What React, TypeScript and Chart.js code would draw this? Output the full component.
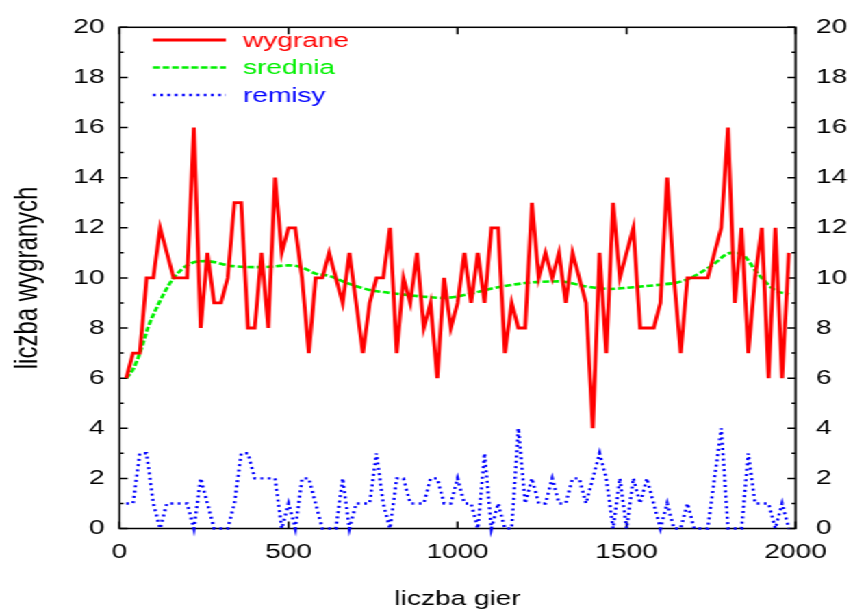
import React, { useEffect, useRef } from 'react';
import { Chart, registerables } from 'chart.js';

Chart.register(...registerables);

// ---------- data ----------
const games = [20,40,60,80,100,120,140,160,180,200,220,240,260,280,300,320,340,360,380,400,420,440,460,480,500,520,540,560,580,600,620,640,660,680,700,720,740,760,780,800,820,840,860,880,900,920,940,960,980,1000,1020,1040,1060,1080,1100,1120,1140,1160,1180,1200,1220,1240,1260,1280,1300,1320,1340,1360,1380,1400,1420,1440,1460,1480,1500,1520,1540,1560,1580,1600,1620,1640,1660,1680,1700,1720,1740,1760,1780,1800,1820,1840,1860,1880,1900,1920,1940,1960,1980];

const wygrane = [
  6,7,7,10,10,12,11,10,10,10,
  16,8,11,9,9,10,13,13,8,8,
  11,8,14,11,12,12,10,7,10,10,
  11,10,9,11,9,7,9,10,10,12,
  7,10,9,11,8,9,6,10,8,9,
  11,9,11,9,12,12,7,9,8,8,
  13,10,11,10,11,9,11,10,9,4,
  11,7,13,10,11,12,8,8,8,9,
  14,10,7,10,10,10,10,11,12,16,
  9,12,7,10,12,6,12,6,11,
];

const remisy = [
  1,1,3,3,1,0,1,1,1,1,
  0,2,1,0,0,0,1,3,3,2,
  2,2,2,0,1,0,2,2,1,0,
  0,0,2,0,1,1,1,3,1,0,
  2,2,1,1,1,2,2,1,1,2,
  1,1,0,3,0,1,0,0,4,1,
  2,1,1,2,1,1,2,2,1,2,
  3,2,0,2,0,2,1,2,1,0,
  1,0,0,1,0,0,0,2,4,0,
  0,0,3,1,1,1,0,1,0,
];

const sredniaX = [20,40,60,85,115,145,160,185,215,255,335,420,500,540,580,620,680,740,820,900,960,1040,1120,1220,1300,1380,1450,1520,1600,1650,1690,1750,1810,1840,1890,1940,1980];
const sredniaY = [6.0,6.35,7.0,8.05,8.95,9.7,10.0,10.35,10.6,10.67,10.47,10.43,10.5,10.42,10.17,10.08,9.76,9.52,9.37,9.25,9.2,9.38,9.63,9.82,9.86,9.66,9.56,9.63,9.73,9.82,10.0,10.47,11.0,10.95,10.14,9.5,9.35];

const seriesLabels = ['wygrane', 'srednia', 'remisy'];
const xTickValues = [0, 500, 1000, 1500, 2000];
const yTickValues = [0,1,2,3,4,5,6,7,8,9,10,11,12,13,14,15,16,17,18,19,20];
const xTitle = 'liczba gier';
const yTitle = 'liczba wygranych';

// ---------- layout (canvas is drawn narrow and stretched horizontally) ----------
const W = 623;
const H = 615;
const S = 853 / W;
const FONT_FAMILY = '"Liberation Sans", Arial, sans-serif';
const FONT_SIZE = 20.5;

const framePlugin = {
  id: 'gnuFrame',
  beforeDatasetsDraw(chart: any) {
    const { ctx, chartArea } = chart;
    const { left, right, top, bottom } = chartArea;
    const ys = chart.scales.y;
    const xs = chart.scales.x;
    ctx.save();
    ctx.strokeStyle = '#000';
    ctx.lineWidth = 1.5;
    ctx.strokeRect(left, top, right - left, bottom - top);
    ctx.beginPath();
    for (const v of yTickValues) {
      const py = ys.getPixelForValue(v);
      const len = v % 2 === 0 ? 6 : 3;
      ctx.moveTo(left, py); ctx.lineTo(left + len, py);
      ctx.moveTo(right, py); ctx.lineTo(right - len, py);
    }
    for (const v of xTickValues) {
      const px = xs.getPixelForValue(v);
      ctx.moveTo(px, bottom); ctx.lineTo(px, bottom - 7);
      ctx.moveTo(px, top); ctx.lineTo(px, top + 7);
    }
    ctx.stroke();
    ctx.restore();
  },
  afterDraw(chart: any) {
    const { ctx } = chart;
    const rows = [40, 67.5, 95];
    const x1 = 111.7, x2 = 165, tx = 177.5;
    ctx.save();
    ctx.font = `${FONT_SIZE}px ${FONT_FAMILY}`;
    ctx.textBaseline = 'middle';
    ctx.textAlign = 'left';
    chart.data.datasets.forEach((ds: any, i: number) => {
      const y = rows[i];
      ctx.strokeStyle = ds.borderColor;
      ctx.lineWidth = ds.borderWidth;
      ctx.setLineDash(ds.borderDash || []);
      ctx.beginPath();
      ctx.moveTo(x1, y);
      ctx.lineTo(x2, y);
      ctx.stroke();
      ctx.fillStyle = ds.borderColor;
      ctx.fillText(ds.label, tx, y + 1);
    });
    ctx.restore();
  },
};

export default function App() {
  const ref = useRef<HTMLCanvasElement>(null);

  useEffect(() => {
    const canvas = ref.current;
    if (!canvas) return;
    const font = { family: FONT_FAMILY, size: FONT_SIZE };
    const chart = new Chart(canvas, {
      type: 'line',
      data: {
        datasets: [
          {
            label: seriesLabels[0],
            data: games.map((g, i) => ({ x: g, y: wygrane[i] })),
            borderColor: '#ff0000',
            borderWidth: 2.8,
            borderJoinStyle: 'miter',
            pointRadius: 0,
            tension: 0,
            clip: false,
          },
          {
            label: seriesLabels[1],
            data: sredniaX.map((g, i) => ({ x: g, y: sredniaY[i] })),
            borderColor: '#00f000',
            borderWidth: 2.6,
            borderDash: [5, 2],
            pointRadius: 0,
            cubicInterpolationMode: 'monotone',
            clip: false,
          },
          {
            label: seriesLabels[2],
            data: games.map((g, i) => ({ x: g, y: remisy[i] })),
            borderColor: '#0000ff',
            borderWidth: 2.4,
            borderDash: [2, 3.3],
            borderJoinStyle: 'miter',
            pointRadius: 0,
            tension: 0,
            clip: false,
          },
        ],
      },
      options: {
        animation: false,
        responsive: false,
        maintainAspectRatio: false,
        layout: { padding: { top: 18.5, left: 0, right: 0, bottom: 0 } },
        plugins: { legend: { display: false }, tooltip: { enabled: false } },
        scales: {
          x: {
            type: 'linear',
            position: 'bottom',
            min: 0,
            max: 2000,
            afterFit: (s: any) => { s.height = 86.5; },
            afterBuildTicks: (s: any) => { s.ticks = xTickValues.map((v) => ({ value: v })); },
            grid: { display: false, drawTicks: false },
            border: { display: false },
            ticks: { font, color: '#000', padding: 12, maxRotation: 0, autoSkip: false, callback: (v: any) => String(v) },
            title: { display: true, text: xTitle, font, color: '#000', padding: { top: 0, bottom: 3 } },
          },
          y: {
            type: 'linear',
            position: 'left',
            min: 0,
            max: 20,
            afterFit: (s: any) => { s.width = 87.3; },
            grid: { display: false, drawTicks: false },
            border: { display: false },
            ticks: { font, color: '#000', padding: 11, stepSize: 2, callback: (v: any) => String(v) },
            title: { display: true, text: yTitle, font: { family: FONT_FAMILY, size: 24 }, color: '#000', padding: { top: 6, bottom: 0 } },
          },
          y2: {
            type: 'linear',
            position: 'right',
            min: 0,
            max: 20,
            afterFit: (s: any) => { s.width = W - 581.1; },
            grid: { display: false, drawTicks: false },
            border: { display: false },
            ticks: { font, color: '#000', padding: 15, stepSize: 2, callback: (v: any) => String(v) },
          },
        },
      },
      plugins: [framePlugin],
    } as any);
    return () => chart.destroy();
  }, []);

  return (
    <div
      style={{
        position: 'fixed',
        left: 0,
        top: 0,
        width: W,
        height: H,
        background: '#fff',
        transform: `scaleX(${S})`,
        transformOrigin: '0 0',
      }}
    >
      <canvas ref={ref} width={W} height={H} style={{ width: W, height: H, display: 'block' }} />
    </div>
  );
}
